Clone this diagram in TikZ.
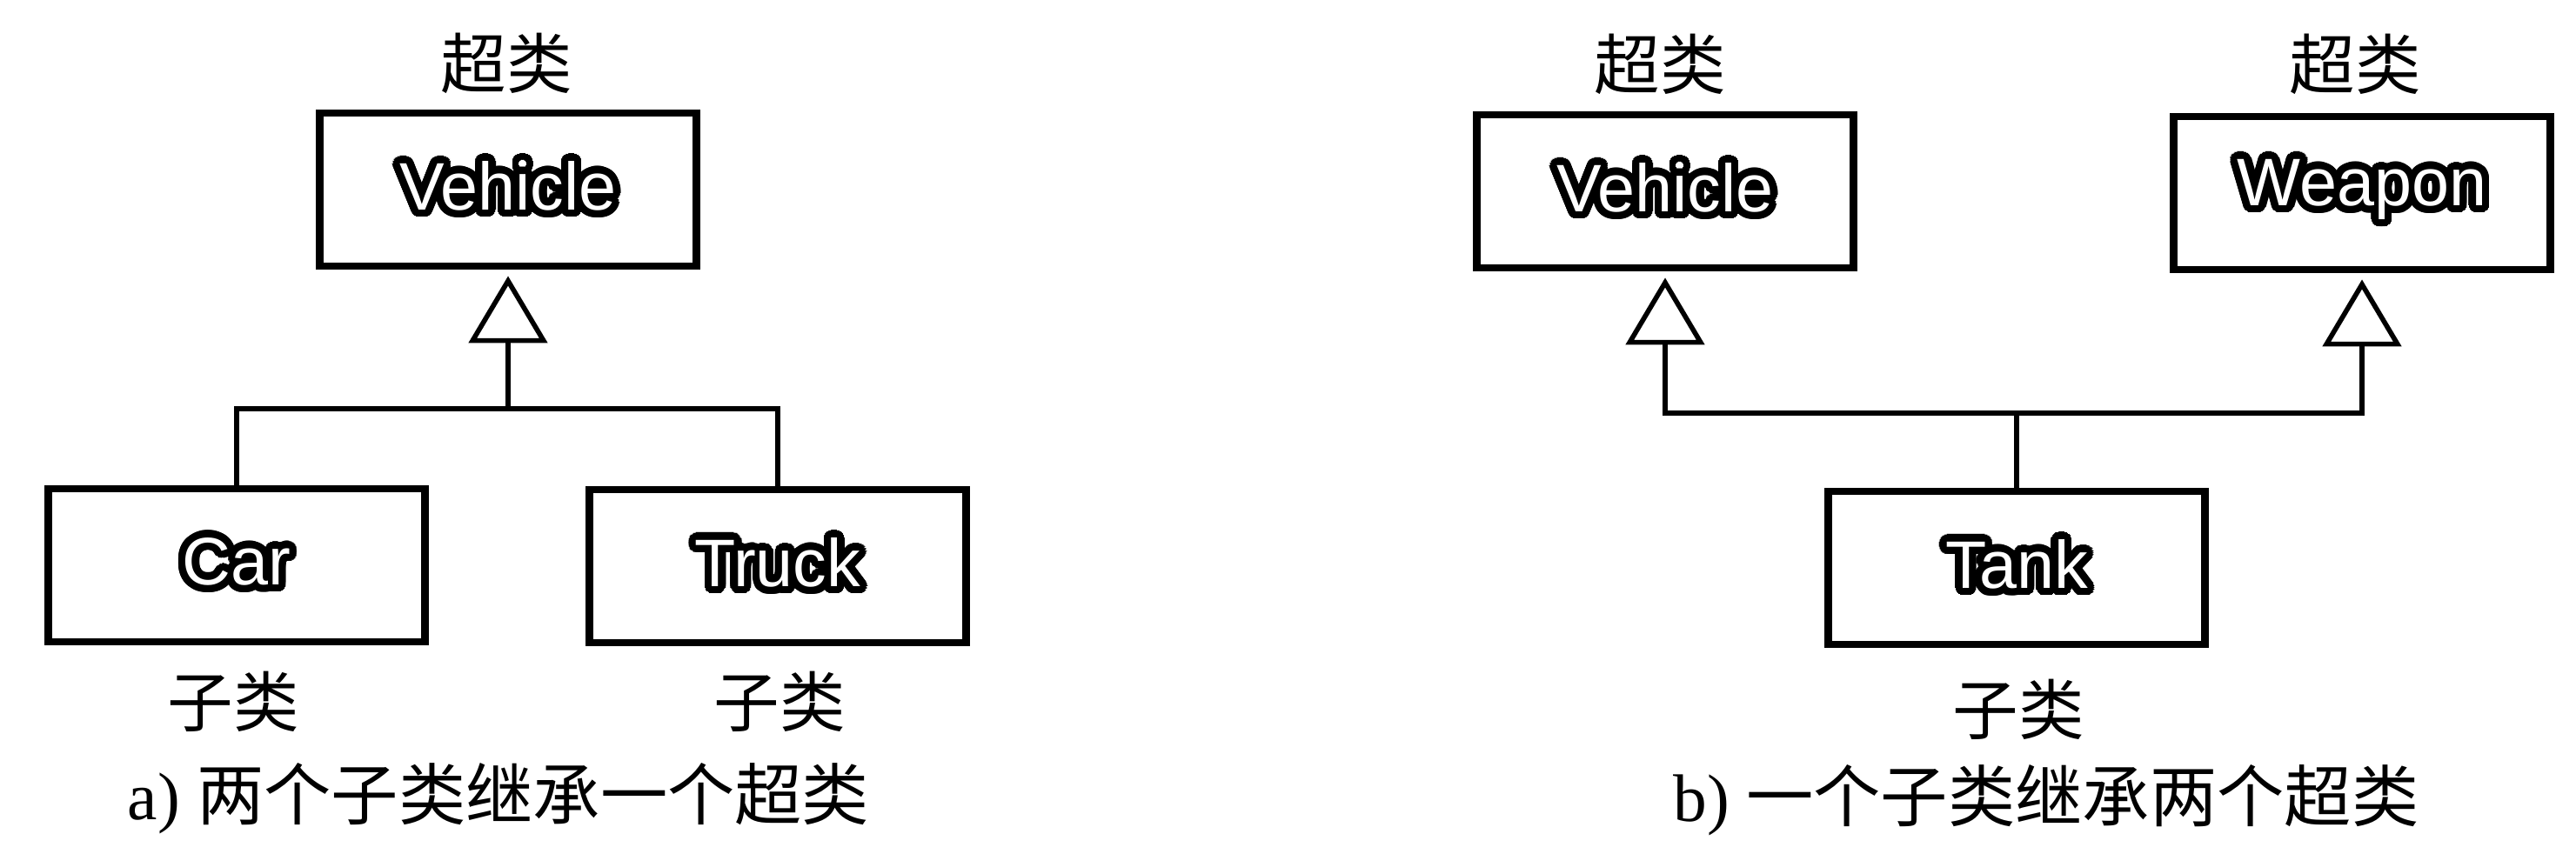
\documentclass[tikz,border=0pt]{standalone}
\usepackage{fontspec}
\setmainfont{Liberation Serif}
\setsansfont{Liberation Sans}
\newfontfamily\cjk{Noto Sans CJK SC}
\usepackage[copies]{contour}
\contourlength{2.4pt}
\contournumber{32}
\usetikzlibrary{arrows.meta}
\newcommand\cls[1]{\contour{black}{\textcolor{white}{#1}}}

\begin{document}
\begin{tikzpicture}[
  box/.style={draw, line width=2.5pt, rectangle, minimum width=4.33cm, minimum height=1.76cm,
              inner sep=0pt, font=\fontsize{22}{26}\selectfont\sffamily},
  hd/.style={font=\fontsize{21.5}{25}\selectfont\cjk, inner sep=0pt},
  capt/.style={font=\fontsize{22}{26}\selectfont, inner sep=0pt},
  ln/.style={line width=1.6pt},
  ar/.style={line width=1.6pt, -{Triangle[open, width=0.9cm, length=0.77cm]}, shorten >=2pt},
]
\useasboundingbox (0,0) rectangle (29.61,-9.81);

\node[hd] (supA) at (5.82,-0.73) {超类};
\node[box] (vehA) at (5.84,-2.18) {\cls{Vehicle}};
\node[box] (carA) at (2.72,-6.50) {\cls{Car}};
\node[box] (trkA) at (8.94,-6.51) {\cls{Truck}};
\node[hd] (subA1) at (2.68,-8.07) {子类};
\node[hd] (subA2) at (8.96,-8.07) {子类};
\node[capt] (capA) at (5.73,-9.18) {a) {\cjk 两个子类继承一个超类}};
\coordinate (jA) at (5.84,-4.70);
\draw[ln] (carA.north) |- (jA) -| (trkA.north);
\draw[ar] (jA) -- (vehA.south);

\node[hd] (supB1) at (19.08,-0.74) {超类};
\node[hd] (supB2) at (27.07,-0.74) {超类};
\node[box] (vehB) at (19.14,-2.20) {\cls{Vehicle}};
\node[box] (wpnB) at (27.15,-2.22) {\cls{Weapon}};
\node[box] (tnkB) at (23.18,-6.53) {\cls{Tank}};
\node[hd] (subB) at (23.20,-8.16) {子类};
\node[capt] (capB) at (23.52,-9.20) {b) {\cjk 一个子类继承两个超类}};
\coordinate (jB) at (23.18,-4.75);
\draw[ln] (tnkB.north) -- (jB);
\draw[ar] (jB) -| (vehB.south);
\draw[ar] (jB) -| (wpnB.south);
\end{tikzpicture}
\end{document}
